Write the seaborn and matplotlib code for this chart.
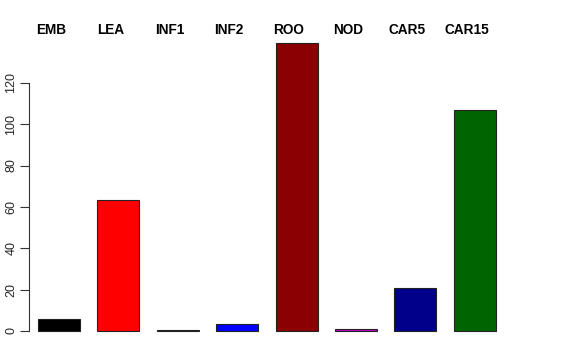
import matplotlib
matplotlib.use("Agg")
import matplotlib.pyplot as plt
import matplotlib.transforms as mtransforms
import seaborn as sns
import pandas as pd

categories = ["EMB", "LEA", "INF1", "INF2", "ROO", "NOD", "CAR5", "CAR15"]
values = [5.6, 63.3, 0.4, 3.2, 139.0, 0.8, 20.9, 106.8]
colors = ["#000000", "#FF0000", "#0B1A0B", "#0000FF", "#8B0000", "#CD00CD", "#00008B", "#006400"]
yticks = [0, 20, 40, 60, 80, 100, 120]

sns.set_theme(style="white")
plt.rcParams["font.family"] = ["Liberation Sans", "DejaVu Sans"]

df = pd.DataFrame({"cat": categories, "val": values})

fig = plt.figure(figsize=(5.76, 3.6), dpi=100)
ax = fig.add_axes([29.3 / 576, (360 - 342.5) / 360, 475.2 / 576, 310.5 / 360])

sns.barplot(data=df, x="cat", y="val", hue="cat", palette=colors, legend=False,
            width=0.707, edgecolor="#222222", linewidth=0.8, saturation=1, ax=ax)

ax.set_xlim(-0.5, 7.5)
ax.set_ylim(-5.56, 144.56)
for s in ["top", "right", "bottom"]:
    ax.spines[s].set_visible(False)
ax.spines["left"].set_bounds(0, 120)
ax.spines["left"].set_color("#333333")
ax.spines["left"].set_linewidth(0.8)
ax.set_xticks([])
ax.set_yticks(yticks)
ax.set_yticklabels([str(t) for t in yticks], rotation=90, va="center", fontsize=9)
ax.tick_params(axis="y", left=True, length=6.2, width=0.8, color="#333333", pad=2.5)
ax.set_xlabel("")
ax.set_ylabel("")

trans = mtransforms.blended_transform_factory(ax.transData, fig.transFigure)
for i, c in enumerate(categories):
    ax.text(i - 0.135, 1 - 30 / 360, c, transform=trans, ha="center", va="center",
            fontsize=9.8, fontweight="bold", color="black")

fig.savefig("out.png", dpi=100)
